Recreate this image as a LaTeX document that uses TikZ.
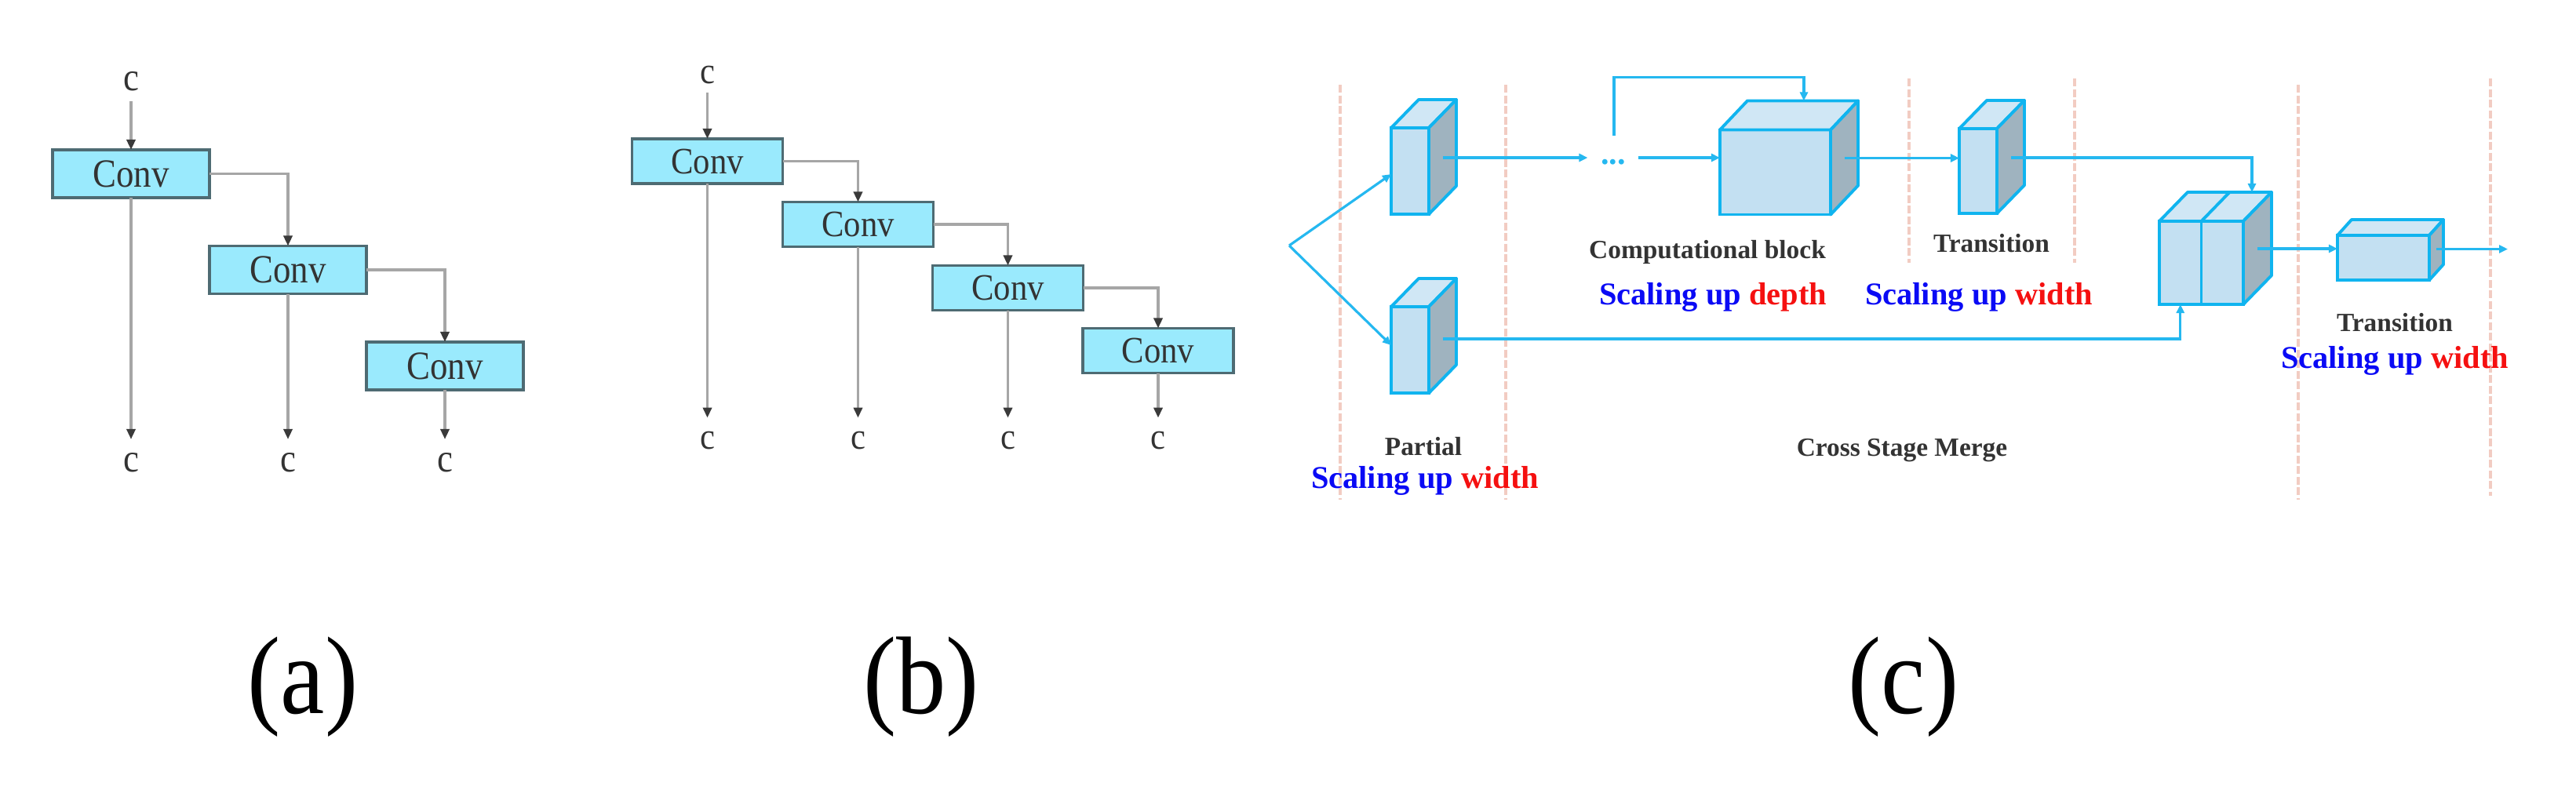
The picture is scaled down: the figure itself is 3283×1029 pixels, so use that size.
\documentclass[tikz,border=0pt]{standalone}
\usepackage{fontspec}
\setmainfont{Liberation Serif}
\usepackage{graphicx}
\usetikzlibrary{arrows.meta,calc}
\definecolor{convfill}{HTML}{9AEAFD}
\definecolor{convborder}{HTML}{4E6B73}
\definecolor{linegray}{HTML}{A6A6A6}
\definecolor{tipdark}{HTML}{3A3A3A}
\definecolor{txtdark}{HTML}{333333}
\definecolor{cubeedge}{HTML}{10B4EF}
\definecolor{arrowcyan}{HTML}{25B8F0}
\definecolor{frontfill}{HTML}{C3E0F2}
\definecolor{topfill}{HTML}{D0E7F5}
\definecolor{sidefill}{HTML}{9FB3BF}
\definecolor{dashcol}{HTML}{F2CCC2}
\definecolor{sblue}{HTML}{0A0AF5}
\definecolor{sred}{HTML}{F51010}
\newcommand\drawcube[3]{%
  \draw[cedge, fill=topfill] (#1.north west) -- ++(#2,-#3) -- ($(#1.north east)+(#2,-#3)$) -- (#1.north east) -- cycle;
  \draw[cedge, fill=sidefill] (#1.north east) -- ++(#2,-#3) -- ($(#1.south east)+(#2,-#3)$) -- (#1.south east) -- cycle;
}
\newcommand\scup[1]{\textcolor{sblue}{Scaling up} \textcolor{sred}{#1}}
\begin{document}
\begin{tikzpicture}[x=0.01cm,y=-0.01cm,
  convA/.style={draw=convborder, fill=convfill, line width=1pt, minimum width=2cm, minimum height=0.61cm, inner sep=0pt, outer sep=0pt, text=txtdark, font=\fontsize{14.5}{16}\selectfont},
  convB/.style={draw=convborder, fill=convfill, line width=1pt, minimum width=1.92cm, minimum height=0.57cm, inner sep=0pt, outer sep=0pt, text=txtdark, font=\fontsize{13.5}{15}\selectfont},
  clabA/.style={inner sep=0pt, outer sep=0pt, anchor=base, text=txtdark, font=\fontsize{14.5}{16}\selectfont},
  clabB/.style={inner sep=0pt, outer sep=0pt, anchor=base, text=txtdark, font=\fontsize{13.5}{15}\selectfont},
  garrow/.style={draw=linegray, line width=1pt, -{Triangle[length=0.13cm,width=0.11cm,color=tipdark]}},
  front/.style={draw=cubeedge, fill=frontfill, line width=1.1pt, inner sep=0pt, outer sep=0pt},
  cedge/.style={draw=cubeedge, line width=1.1pt, line join=round},
  carrow/.style={draw=arrowcyan, line width=0.9pt, -{Triangle[length=0.11cm,width=0.1cm]}},
  cline/.style={draw=arrowcyan, line width=0.9pt},
  sepline/.style={draw=dashcol, line width=1.4pt, dash pattern=on 0.1cm off 0.035cm},
  dlab/.style={anchor=base, inner sep=0pt, text=txtdark, font=\fontsize{9.5}{11}\selectfont\bfseries},
  slab/.style={anchor=base, inner sep=0pt, font=\fontsize{11.5}{13}\selectfont\bfseries},
  plab/.style={anchor=base, inner sep=0pt, text=black, font=\fontsize{40}{44}\selectfont}
]
\useasboundingbox[fill=white] (0,0) rectangle (3283,1029);

% ---------------- panel (a)
\node[clabA] (ain) at (167,115) {\scalebox{0.88}[1]{c}};
\node[convA] (a1) at (167,221.5) {\scalebox{0.88}[1]{Conv}};
\node[convA] (a2) at (367,344) {\scalebox{0.88}[1]{Conv}};
\node[convA] (a3) at (567,466.5) {\scalebox{0.88}[1]{Conv}};
\node[clabA] (ao1) at (167,601) {\scalebox{0.88}[1]{c}};
\node[clabA] (ao2) at (367,601) {\scalebox{0.88}[1]{c}};
\node[clabA] (ao3) at (567,601) {\scalebox{0.88}[1]{c}};
\draw[garrow, shorten <=0.135cm] (ain) -- (a1);
\draw[garrow] (a1.east) -| (a2.north);
\draw[garrow] (a2.east) -| (a3.north);
\draw[garrow, shorten >=0.17cm] (a1) -- (ao1);
\draw[garrow, shorten >=0.17cm] (a2) -- (ao2);
\draw[garrow, shorten >=0.17cm] (a3) -- (ao3);

% ---------------- panel (b)
\node[clabB] (bin) at (901.5,106.5) {\scalebox{0.9}[1]{c}};
\node[convB] (b1) at (901.5,205.5) {\scalebox{0.9}[1]{Conv}};
\node[convB] (b2) at (1093.5,286) {\scalebox{0.9}[1]{Conv}};
\node[convB] (b3) at (1284.5,367) {\scalebox{0.9}[1]{Conv}};
\node[convB] (b4) at (1476,447) {\scalebox{0.9}[1]{Conv}};
\node[clabB] (bo1) at (901.5,572) {\scalebox{0.9}[1]{c}};
\node[clabB] (bo2) at (1093.5,572) {\scalebox{0.9}[1]{c}};
\node[clabB] (bo3) at (1284.5,572) {\scalebox{0.9}[1]{c}};
\node[clabB] (bo4) at (1476,572) {\scalebox{0.9}[1]{c}};
\draw[garrow, shorten <=0.115cm] (bin) -- (b1);
\draw[garrow] (b1.east) -| (b2.north);
\draw[garrow] (b2.east) -| (b3.north);
\draw[garrow] (b3.east) -| (b4.north);
\draw[garrow, shorten >=0.17cm] (b1) -- (bo1);
\draw[garrow, shorten >=0.17cm] (b2) -- (bo2);
\draw[garrow, shorten >=0.17cm] (b3) -- (bo3);
\draw[garrow, shorten >=0.17cm] (b4) -- (bo4);

% ---------------- panel (c): separators
\draw[sepline] (1708,108) -- (1708,637);
\draw[sepline] (1919,108) -- (1919,637);
\draw[sepline] (2433,100) -- (2433,335);
\draw[sepline] (2644,100) -- (2644,335);
\draw[sepline] (2929,108) -- (2929,637);
\draw[sepline] (3174,100) -- (3174,632);

% cubes
\node[front, minimum width=0.48cm, minimum height=1.10cm] (P1) at (1797,218) {};
\drawcube{P1}{35}{36}
\node[front, minimum width=0.48cm, minimum height=1.10cm] (P2) at (1797,446) {};
\drawcube{P2}{35}{36}
\node[front, minimum width=1.41cm, minimum height=1.08cm] (CB) at (2262.5,219.5) {};
\drawcube{CB}{35}{37}
\node[front, minimum width=0.48cm, minimum height=1.08cm] (T1) at (2521,218) {};
\drawcube{T1}{35}{36}
\node[front, minimum width=0.535cm, minimum height=1.06cm] (CCa) at (2778.75,335) {};
\node[front, minimum width=0.535cm, minimum height=1.06cm] (CCb) at (2832.25,335) {};
\draw[cedge, fill=topfill] (CCa.north west) -- ++(36,-37) -- ($(CCb.north east)+(36,-37)$) -- (CCb.north east) -- cycle;
\draw[cedge] (CCa.north east) -- ++(36,-37);
\draw[cedge, fill=sidefill] (CCb.north east) -- ++(36,-37) -- ($(CCb.south east)+(36,-37)$) -- (CCb.south east) -- cycle;
\node[front, minimum width=1.17cm, minimum height=0.57cm] (T2) at (3037.5,328.5) {};
\drawcube{T2}{18}{20}

% helper points
\coordinate (fork) at (1643,313);
\coordinate (P1s) at ($(P1.east)+(17.5,-17)$);
\coordinate (P2s) at ($(P2.east)+(17.5,-14)$);
\coordinate (CBs) at ($(CB.east)+(17.5,-18)$);
\coordinate (T1s) at ($(T1.east)+(17.5,-17)$);
\coordinate (CCs) at ($(CCb.east)+(18,-18)$);
\coordinate (T2s) at ($(T2.east)+(9,-11)$);
\coordinate (CBtop) at ($(CB.north west)+(107,-37)$);
\coordinate (CCtop) at ($(CCa.north west)+(118,-37)$);
\coordinate (loopstart) at (2057,173);
\coordinate (outend) at (3196,317.5);
\node[inner sep=0pt, text=arrowcyan, font=\fontsize{12}{14}\selectfont\bfseries] (dots) at (2056,207) {...};

% connectors
\draw[carrow] (fork) -- ([yshift=-0.04cm]P1.west);
\draw[carrow] (fork) -- ([yshift=0.06cm]P2.west);
\draw[carrow, shorten >=0.16cm] (P1s) -- (P1s -| dots.west);
\draw[carrow, shorten <=0.15cm] (P1s -| dots.east) -- (P1s -| CB.west);
\draw[carrow] (loopstart) |- ($(CBtop)+(0,-30)$) -- (CBtop);
\draw[carrow] (CBs) -- (CBs -| T1.west);
\draw[carrow] (T1s) -| (CCtop);
\draw[carrow] (P2s) -| (CCa.south);
\draw[carrow] (CCs) -- (CCs -| T2.west);
\draw[carrow] (T2s) -- (outend);

% labels
\node[dlab] (lcomp) at (2176,329) {Computational block};
\node[slab] (ldepth) at (2183,388) {\scup{depth}};
\node[dlab] (ltr1) at (2538,321) {Transition};
\node[slab] (lw1) at (2522,388) {\scup{width}};
\node[dlab] (lpart) at (1814,580) {Partial};
\node[slab] (lw0) at (1816,622) {\scup{width}};
\node[dlab] (lcsm) at (2424,581) {Cross Stage Merge};
\node[dlab] (ltr2) at (3052,422) {Transition};
\node[slab] (lw2) at (3052,469) {\scup{width}};

% panel labels
\node[plab] (pa) at (386,909) {\scalebox{0.9}[1]{(a)}};
\node[plab] (pb) at (1174,909) {\scalebox{0.9}[1]{(b)}};
\node[plab] (pc) at (2426,909) {\scalebox{0.9}[1]{(c)}};
\end{tikzpicture}
\end{document}
